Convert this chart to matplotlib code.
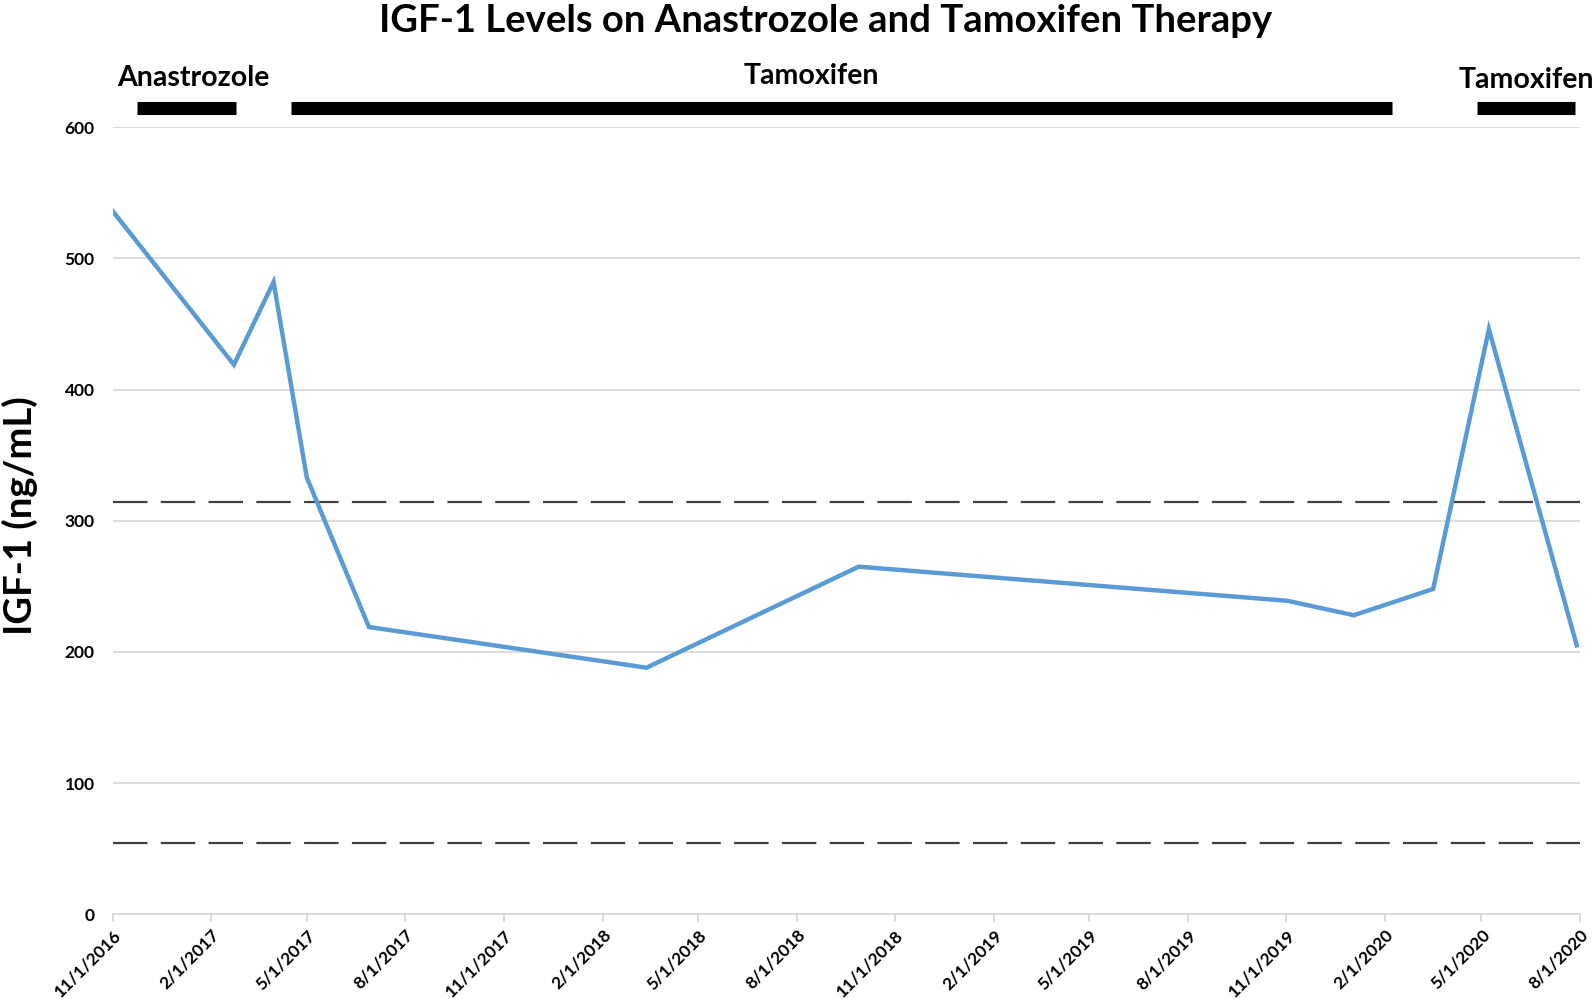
import matplotlib
matplotlib.use("Agg")
import matplotlib.pyplot as plt
import pandas as pd

# ---- data ----
dates = ["2016-11-01", "2017-02-22", "2017-03-31", "2017-05-01", "2017-06-28",
         "2018-03-14", "2018-09-28", "2019-11-02", "2020-01-03", "2020-03-17",
         "2020-05-08", "2020-07-29"]
igf1 = [536, 419, 482, 333, 219, 188, 265, 239, 228, 248, 446, 205]

ref_upper = 314
ref_lower = 54

tick_dates = ["2016-11-01", "2017-02-01", "2017-05-01", "2017-08-01", "2017-11-01",
              "2018-02-01", "2018-05-01", "2018-08-01", "2018-11-01", "2019-02-01",
              "2019-05-01", "2019-08-01", "2019-11-01", "2020-02-01", "2020-05-01",
              "2020-08-01"]
tick_labels = ["11/1/2016", "2/1/2017", "5/1/2017", "8/1/2017", "11/1/2017",
               "2/1/2018", "5/1/2018", "8/1/2018", "11/1/2018", "2/1/2019",
               "5/1/2019", "8/1/2019", "11/1/2019", "2/1/2020", "5/1/2020",
               "8/1/2020"]
y_ticks = [0, 100, 200, 300, 400, 500, 600]

therapy_names = ["Anastrozole", "Tamoxifen", "Tamoxifen"]
therapy_start = ["2016-11-24", "2017-04-16", "2020-04-27"]
therapy_end = ["2017-02-24", "2020-02-08", "2020-07-27"]
therapy_label_x = ["2017-01-15", "2018-08-15", "2020-06-12"]
therapy_label_y = [637.5, 639.0, 636.0]

title = "IGF-1 Levels on Anastrozole and Tamoxifen Therapy"
ylabel = "IGF-1 (ng/mL)"

# ---- plot ----
plt.rcParams['font.family'] = ['Lato', 'DejaVu Sans']

fig = plt.figure(figsize=(15.94, 9.99), dpi=100)
ax = fig.add_axes([0.07077, 0.0848, 0.9912 - 0.07077, 0.8726 - 0.0848])

x = pd.to_datetime(dates)
ax.plot(x, igf1, color="#5B9BD5", linewidth=3.2, solid_joinstyle="miter", zorder=4)

x0 = pd.Timestamp(tick_dates[0])
x1 = pd.Timestamp(tick_dates[-1])
ax.set_xlim(x0, x1)
ax.set_ylim(0, 600)

for yv in (ref_upper, ref_lower):
    ax.plot([x0, x1], [yv, yv], color="#404040", linewidth=1.6,
            dashes=(15.5, 6.0), zorder=3)

ax.set_yticks(y_ticks)
ax.set_yticklabels([str(v) for v in y_ticks], fontsize=12.5, fontweight="bold")
ax.set_xticks(pd.to_datetime(tick_dates))
ax.set_xticklabels(tick_labels, fontsize=12.5, fontweight="bold",
                   rotation=45, ha="right", rotation_mode="anchor")

ax.grid(axis="y", color="#d9d9d9", linewidth=1.3)
ax.set_axisbelow(True)
for s in ("top", "right", "left"):
    ax.spines[s].set_visible(False)
ax.spines["bottom"].set_color("#d9d9d9")
ax.spines["bottom"].set_linewidth(1.3)
ax.tick_params(axis="y", length=0, pad=13)
ax.tick_params(axis="x", length=6, color="#d9d9d9", width=1.3, pad=3)

for name, s, e, lx, ly in zip(therapy_names, therapy_start, therapy_end,
                              therapy_label_x, therapy_label_y):
    ax.plot([pd.Timestamp(s), pd.Timestamp(e)], [614.8, 614.8], color="black",
            linewidth=9.4, solid_capstyle="butt", clip_on=False)
    ax.text(pd.Timestamp(lx), ly, name, ha="center", va="center",
            fontsize=20.5, fontweight="bold", clip_on=False)

fig.text(0.518, 0.979, title, ha="center", va="center", fontsize=27.5, fontweight="bold")
fig.text(0.0125, 0.4835, ylabel, ha="center", va="center", rotation=90,
         fontsize=27.5, fontweight="bold")

fig.savefig("out.png", dpi=100)
